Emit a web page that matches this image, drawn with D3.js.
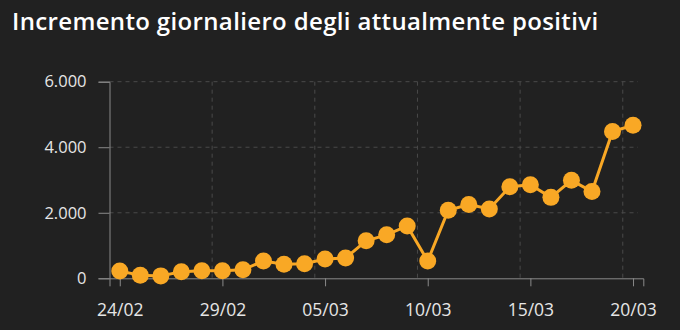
<!DOCTYPE html>
<html>
<head>
<meta charset="utf-8">
<script src="https://cdn.jsdelivr.net/npm/d3@7"></script>
<style>
  html, body { margin: 0; padding: 0; background: #212121; }
  svg { display: block; }
</style>
</head>
<body>
<svg id="chart" width="680" height="330"></svg>
<script>
const title = "Incremento giornaliero degli attualmente positivi";
const dates = ["24/02","25/02","26/02","27/02","28/02","29/02","01/03","02/03","03/03","04/03","05/03","06/03","07/03","08/03","09/03","10/03","11/03","12/03","13/03","14/03","15/03","16/03","17/03","18/03","19/03","20/03"];
const values = [221, 90, 74, 203, 233, 228, 258, 528, 428, 443, 590, 620, 1145, 1326, 1598, 529, 2076, 2249, 2116, 2795, 2853, 2470, 2989, 2648, 4480, 4670];
const xTickLabels = ["24/02","29/02","05/03","10/03","15/03","20/03"];
const yTicks = [0, 2000, 4000, 6000];

(function () {
const parse = s => d3.utcParse("%d/%m/%Y")(s + "/2020");
const data = dates.map((d, i) => ({ date: parse(d), value: values[i] }));

const svg = d3.select("#chart");
const mLeft = 109.5, mRight = 643.3, mTop = 81.7, mBottom = 278.3;
const halfDay = 12 * 3600 * 1000;

const x = d3.scaleUtc()
  .domain([new Date(+data[0].date - halfDay), new Date(+data[data.length - 1].date + halfDay)])
  .range([mLeft, mRight]);
const y = d3.scaleLinear().domain([0, 6000]).range([mBottom, mTop]);

const locale = d3.formatLocale({ decimal: ",", thousands: ".", grouping: [3], currency: ["", "€"] });
const fmt = locale.format(",d");

// title
svg.append("text")
  .attr("x", 12).attr("y", 30)
  .attr("fill", "#ffffff")
  .attr("font-family", "'Open Sans', sans-serif")
  .attr("font-weight", 600)
  .attr("font-size", 24)
  .attr("letter-spacing", 0.35)
  .text(title);

// horizontal grid
svg.append("g").selectAll("line")
  .data(yTicks.filter(v => v > 0))
  .join("line")
  .attr("x1", mLeft).attr("x2", 638)
  .attr("y1", d => y(d)).attr("y2", d => y(d))
  .attr("stroke", "#4a4a4a").attr("stroke-width", 1)
  .attr("stroke-dasharray", "4,4");

// vertical grid (half a day before each tick)
const tickDates = xTickLabels.map(parse);
svg.append("g").selectAll("line")
  .data(tickDates.slice(1))
  .join("line")
  .attr("x1", d => x(new Date(+d - halfDay))).attr("x2", d => x(new Date(+d - halfDay)))
  .attr("y1", mTop).attr("y2", mBottom)
  .attr("stroke", "#4a4a4a").attr("stroke-width", 1)
  .attr("stroke-dasharray", "4,4");

// y axis
const yAxis = d3.axisLeft(y).tickValues(yTicks).tickFormat(fmt).tickSize(11).tickPadding(12);
const gy = svg.append("g").attr("transform", `translate(${mLeft},0)`).call(yAxis);
gy.select(".domain").attr("stroke", "#8a8a8a");
gy.selectAll(".tick line").attr("stroke", "#8a8a8a");
gy.selectAll(".tick text")
  .attr("fill", "#e6e6e6")
  .attr("font-family", "'Open Sans', sans-serif")
  .attr("font-size", 16.5);

// x axis
const xAxis = d3.axisBottom(x).tickValues(tickDates).tickFormat(d3.utcFormat("%d/%m")).tickSize(8).tickPadding(17);
const gx = svg.append("g").attr("transform", `translate(0,${mBottom})`).call(xAxis);
gx.select(".domain").attr("stroke", "#8a8a8a");
gx.selectAll(".tick line").attr("stroke", "#8a8a8a");
gx.selectAll(".tick text")
  .attr("fill", "#e6e6e6")
  .attr("font-family", "'Open Sans', sans-serif")
  .attr("font-size", 17.5);

// line
const line = d3.line().x(d => x(d.date)).y(d => y(d.value));
svg.append("path")
  .datum(data)
  .attr("d", line)
  .attr("fill", "none")
  .attr("stroke", "#f9a825")
  .attr("stroke-width", 3);

// dots
svg.append("g").selectAll("circle")
  .data(data)
  .join("circle")
  .attr("cx", d => x(d.date))
  .attr("cy", d => y(d.value))
  .attr("r", 8.5)
  .attr("fill", "#f9a825");
})();
</script>
</body>
</html>
